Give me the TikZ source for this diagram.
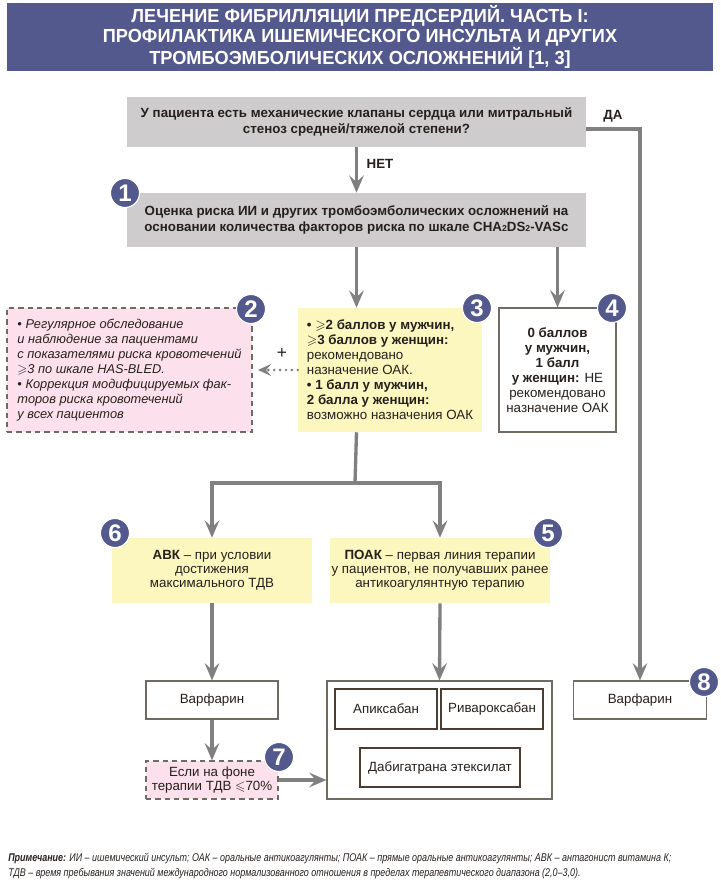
\documentclass[tikz,border=0pt]{standalone}
\usepackage{amssymb}
\usepackage{fontspec}
\setmainfont{Liberation Sans}
\newfontfamily\titlefont[FakeStretch=0.96]{Liberation Sans}
\newfontfamily\notefont[FakeStretch=0.8]{Liberation Sans}
\usetikzlibrary{arrows.meta,calc}
\definecolor{slate}{RGB}{83,89,141}
\definecolor{panelgray}{RGB}{206,204,204}
\definecolor{paleyellow}{RGB}{252,247,190}
\definecolor{palepink}{RGB}{252,225,236}
\definecolor{flowgray}{RGB}{128,128,128}
\definecolor{ink}{RGB}{38,32,28}
\definecolor{edgegray}{RGB}{112,106,100}
\definecolor{drugedge}{RGB}{72,62,52}
\tikzset{
  banner/.style={fill=slate,inner sep=0pt,text=white,align=center,font=\titlefont\bfseries\fontsize{14.2}{14.4}\selectfont},
  graybox/.style={fill=panelgray,inner sep=0pt,align=center,text=ink,font=\bfseries\fontsize{10}{11.5}\selectfont},
  yelbox/.style={fill=paleyellow,inner sep=0pt,text=ink},
  pinkbox/.style={fill=palepink,draw=edgegray,dash pattern=on 4pt off 3pt,line width=0.9pt,inner sep=0pt,text=ink},
  whitebox/.style={fill=white,draw=edgegray,line width=0.8pt,inner sep=0pt,text=ink},
  drugbox/.style={fill=white,draw=drugedge,line width=0.9pt,inner sep=0pt,text=ink,font=\fontsize{10}{12}\selectfont},
  badge/.style={circle,fill=slate,draw=white,line width=0.8pt,text=white,inner sep=0pt,minimum size=21.75pt,font=\bfseries\fontsize{18}{18}\selectfont},
  flow/.style={-{Stealth[length=13pt,width=11pt,inset=5pt]},line width=2.5pt,draw=flowgray},
  trunk/.style={line width=2.5pt,draw=flowgray},
  dotflow/.style={-{Stealth[length=10pt,width=9pt,inset=4pt]},line width=2.2pt,draw=flowgray,line cap=round,dash pattern=on 0pt off 4.4pt},
  lbl/.style={inner sep=0pt,text=ink,font=\bfseries\fontsize{10}{12}\selectfont}
}
\begin{document}
\begin{tikzpicture}[x=0.75pt,y=-0.75pt]
  \useasboundingbox (0,0) rectangle (720,891);

  \node[banner,minimum width=529.5pt,minimum height=51pt] (title) at (360,37)
    {ЛЕЧЕНИЕ ФИБРИЛЛЯЦИИ ПРЕДСЕРДИЙ. ЧАСТЬ I:\\
     ПРОФИЛАКТИКА ИШЕМИЧЕСКОГО ИНСУЛЬТА И ДРУГИХ\\
     ТРОМБОЭМБОЛИЧЕСКИХ ОСЛОЖНЕНИЙ [1, 3]};

  % questions and risk score
  \node[graybox,minimum width=344.25pt,minimum height=37.5pt] (Q) at (356.5,122)
    {У пациента есть механические клапаны сердца или митральный\\
     стеноз средней/тяжелой степени?};
  \node[graybox,minimum width=344.25pt,minimum height=40.5pt] (B1) at (356.5,220)
    {Оценка риска ИИ и других тромбоэмболических осложнений на\\
     основании количества факторов риска по шкале CHA{\fontsize{6.5}{7}\selectfont 2}DS{\fontsize{6.5}{7}\selectfont 2}-VASc};

  % middle row
  \node[pinkbox,minimum width=183.75pt,minimum height=93pt,align=left,
        font=\itshape\fontsize{9.6}{11.25}\selectfont] (B2) at (129.5,370)
    {\textbullet\ Регулярное обследование\\
     и наблюдение за пациентами\\
     с показателями риска кровотечений\\
     $\geqslant$3 по шкале HAS-BLED.\\
     \textbullet\ Коррекция модифицируемых фак-\\
     торов риска кровотечений\\
     у всех пациентов};
  \node[yelbox,minimum width=138pt,minimum height=93pt,align=left,
        font=\fontsize{10}{11.25}\selectfont] (B3) at (390,370)
    {\textbf{\textbullet\ $\geqslant$2 баллов у мужчин,}\\
     \textbf{$\geqslant$3 баллов у женщин:}\\
     рекомендовано\\
     назначение ОАК.\\
     \textbf{\textbullet\ 1 балл у мужчин,}\\
     \textbf{2 балла у женщин:}\\
     возможно назначения ОАК};
  \node[whitebox,minimum width=87.75pt,minimum height=93pt,align=center,
        font=\fontsize{10}{11.25}\selectfont] (B4) at (557.5,370)
    {\textbf{0 баллов}\\ \textbf{у мужчин,}\\ \textbf{1 балл}\\
     \textbf{у женщин:} НЕ\\ рекомендовано\\ назначение ОАК};

  % therapy choice
  \node[yelbox,minimum width=150pt,minimum height=48.75pt,align=center,
        font=\fontsize{10}{10.5}\selectfont] (B6) at (212,570.5)
    {\textbf{АВК} – при условии\\ достижения\\ максимального ТДВ};
  \node[yelbox,minimum width=165pt,minimum height=48.75pt,align=center,
        font=\fontsize{10}{10.5}\selectfont] (B5) at (440,570.5)
    {\textbf{ПОАК} – первая линия терапии\\ у пациентов, не получавших ранее\\ антикоагулянтную терапию};

  % drugs
  \node[whitebox,minimum width=99pt,minimum height=28.5pt,font=\fontsize{10}{12}\selectfont] (W1) at (212,700) {Варфарин};
  \node[pinkbox,minimum width=99pt,minimum height=28.5pt,align=center,
        font=\fontsize{10}{11}\selectfont] (B7) at (212,780)
    {Если на фоне\\ терапии ТДВ $\leqslant$70\%};
  \node[whitebox,minimum width=168.75pt,minimum height=88.5pt] (big) at (439.5,740) {};
  \node[drugbox,minimum width=76.5pt,minimum height=30pt] (api) at (386,709) {Апиксабан};
  \node[drugbox,minimum width=76.5pt,minimum height=30pt] (riv) at (492,709) {Ривароксабан};
  \node[drugbox,minimum width=120pt,minimum height=29.25pt] (dab) at (440,767.5) {Дабигатрана этексилат};
  \node[whitebox,minimum width=99.75pt,minimum height=28.5pt,font=\fontsize{10}{12}\selectfont] (W8) at (640,700) {Варфарин};

  % connectors
  \coordinate (split) at (355,483);
  \draw[flow] ($(Q.east)+(0,7)$) -| (W8.north);
  \draw[flow] (Q.south) -- (B1.north);
  \draw[flow] (B1.south) -- (B1.south |- B3.north);
  \draw[flow] (B4.north |- B1.south) -- (B4.north);
  \draw[trunk] (B1.south |- B3.south) -- (split);
  \draw[flow] (split) -| (B6.north);
  \draw[flow] (split) -| (B5.north);
  \draw[flow] (B6.south) -- (W1.north);
  \draw[flow] (B5.south) -- (big.north);
  \draw[flow] (W1.south) -- (B7.north);
  \draw[flow] (B7.east) -- (big.west |- B7.east);
  \draw[dotflow,shorten >=4pt] (B3.west) -- (B2.east);

  \node[lbl] (yes) at (613,116) {ДА};
  \node[lbl] (no) at (380,164) {НЕТ};
  \node[inner sep=0pt,text=ink,font=\fontsize{13}{13}\selectfont] (plus) at (282,353) {+};

  \foreach \x/\y/\n in {125/193/1,251/309/2,477/308/3,612/308/4,548/533/5,115/533/6,279/757/7,704/682/8}{
    \node[badge] (c\n) at (\x,\y) {\n};
  }

  \node[anchor=west,align=left,inner sep=0pt,text=ink,
        font=\notefont\itshape\fontsize{8.4}{11.25}\selectfont] (note) at (8,866)
    {\textbf{Примечание:} ИИ – ишемический инсульт; ОАК – оральные антикоагулянты; ПОАК – прямые оральные антикоагулянты; АВК – антагонист витамина К;\\
     ТДВ – время пребывания значений международного нормализованного отношения в пределах терапевтического диапазона (2,0–3,0).};
\end{tikzpicture}
\end{document}
